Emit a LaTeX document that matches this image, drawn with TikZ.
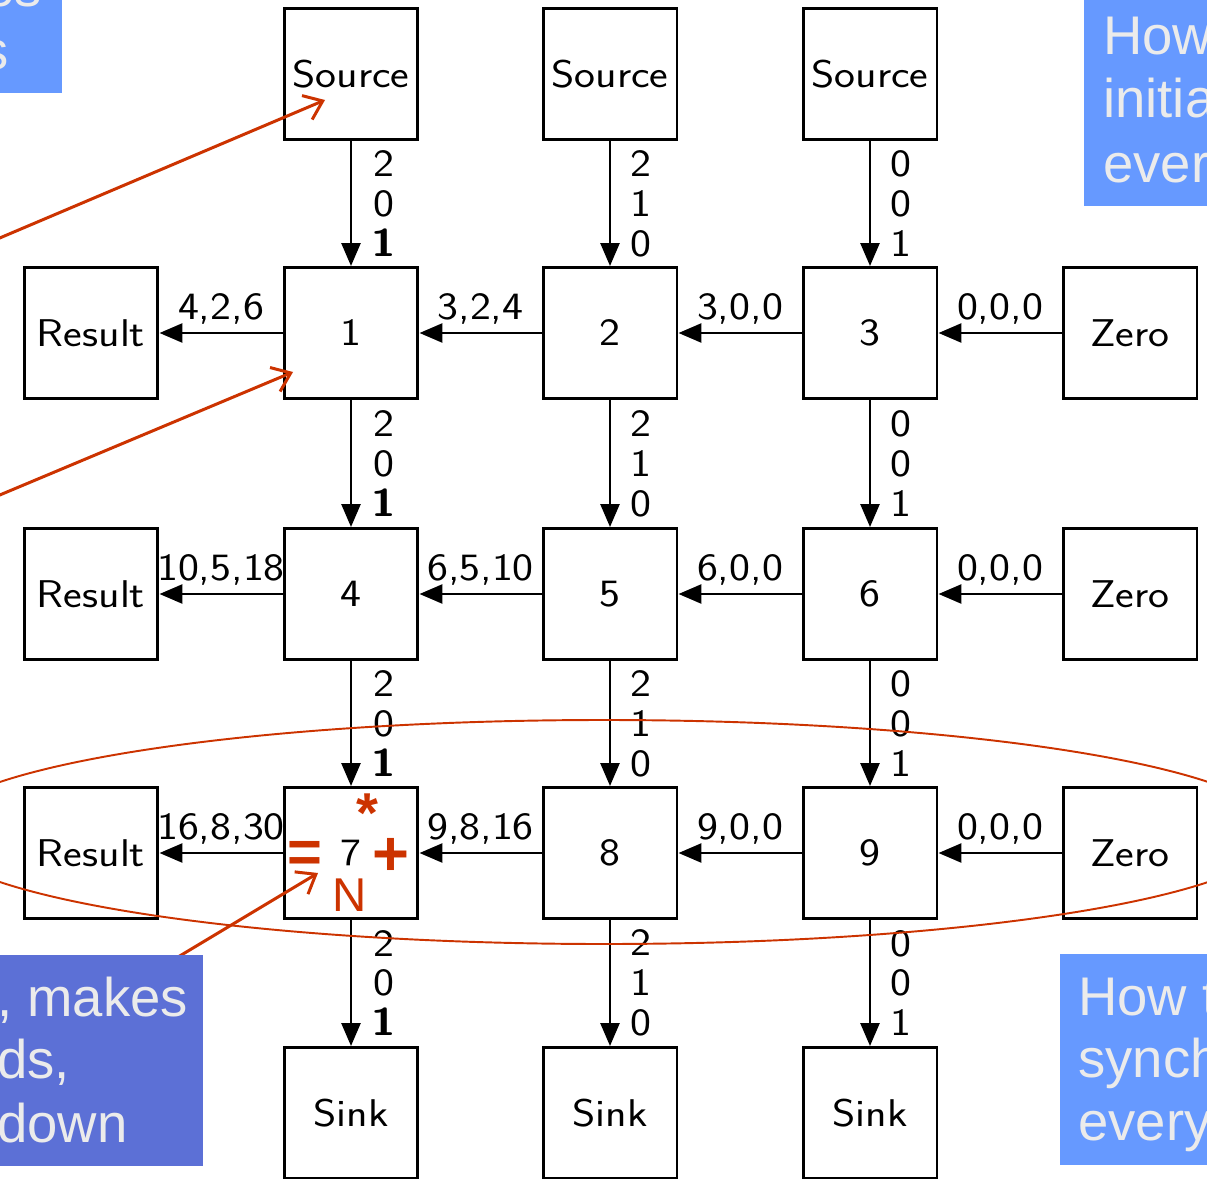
\documentclass[tikz,border=0pt]{standalone}
\usepackage{fontspec}
\newfontfamily\calloutfont{Liberation Sans}
\usetikzlibrary{arrows.meta}
\definecolor{markred}{HTML}{CC3300}
\definecolor{calloutblue}{HTML}{6699FF}
\definecolor{calloutviolet}{HTML}{5C70D6}
\definecolor{callouttext}{HTML}{EBEBEB}
% grid lettering is set slightly wide
\newcommand\gridwide[1]{\scalebox{1.15}[1]{#1}}
\begin{document}
\begin{tikzpicture}[x=0.02cm,y=-0.02cm,
  cell/.style={draw, line width=1.7pt, minimum width=2.68cm, minimum height=2.62cm,
    inner sep=0pt, font=\sffamily\fontsize{22}{26}\selectfont},
  flow/.style={line width=1.5pt, -{Triangle[length=0.46cm,width=0.38cm]}},
  hlab/.style={above, inner sep=4pt, font=\sffamily\fontsize{22}{26}\selectfont},
  vlab/.style={right, inner sep=0pt, xshift=0.38cm, align=center,
    font=\sffamily\fontsize{22}{22.7}\selectfont},
  pointer/.style={markred, line width=1.7pt, -{Straight Barb[length=0.34cm,width=0.52cm]}},
  callout/.style={inner sep=0pt, anchor=base west, text=callouttext,
    font=\calloutfont\fontsize{31}{37}\selectfont},
  opmark/.style={inner sep=0pt, text=markred},
]
\useasboundingbox (0,0) rectangle (1207,1179);
\clip (0,0) rectangle (1207,1179);

% sources
\node[cell] (s1) at (351,74) {\gridwide{Source}};
\node[cell] (s2) at (610,74) {\gridwide{Source}};
\node[cell] (s3) at (870,74) {\gridwide{Source}};
% first row
\node[cell] (r1) at (91,333) {\gridwide{Result}};
\node[cell] (n1) at (351,333) {\gridwide{1}};
\node[cell] (n2) at (610,333) {\gridwide{2}};
\node[cell] (n3) at (870,333) {\gridwide{3}};
\node[cell] (z1) at (1130,333) {\gridwide{Zero}};
% second row
\node[cell] (r2) at (91,594) {\gridwide{Result}};
\node[cell] (n4) at (351,594) {\gridwide{4}};
\node[cell] (n5) at (610,594) {\gridwide{5}};
\node[cell] (n6) at (870,594) {\gridwide{6}};
\node[cell] (z2) at (1130,594) {\gridwide{Zero}};
% third row
\node[cell] (r3) at (91,853) {\gridwide{Result}};
\node[cell] (n7) at (351,853) {\gridwide{7}};
\node[cell] (n8) at (610,853) {\gridwide{8}};
\node[cell] (n9) at (870,853) {\gridwide{9}};
\node[cell] (z3) at (1130,853) {\gridwide{Zero}};
% sinks
\node[cell] (k1) at (351,1113) {\gridwide{Sink}};
\node[cell] (k2) at (610,1113) {\gridwide{Sink}};
\node[cell] (k3) at (870,1113) {\gridwide{Sink}};

% vertical streams
\draw[flow] (s1) -- node[vlab]{\gridwide{2}\\\gridwide{0}\\\gridwide{\textbf{1}}} (n1);
\draw[flow] (n1) -- node[vlab]{\gridwide{2}\\\gridwide{0}\\\gridwide{\textbf{1}}} (n4);
\draw[flow] (n4) -- node[vlab]{\gridwide{2}\\\gridwide{0}\\\gridwide{\textbf{1}}} (n7);
\draw[flow] (n7) -- node[vlab]{\gridwide{2}\\\gridwide{0}\\\gridwide{\textbf{1}}} (k1);
\draw[flow] (s2) -- node[vlab]{\gridwide{2}\\\gridwide{1}\\\gridwide{0}} (n2);
\draw[flow] (n2) -- node[vlab]{\gridwide{2}\\\gridwide{1}\\\gridwide{0}} (n5);
\draw[flow] (n5) -- node[vlab]{\gridwide{2}\\\gridwide{1}\\\gridwide{0}} (n8);
\draw[flow] (n8) -- node[vlab]{\gridwide{2}\\\gridwide{1}\\\gridwide{0}} (k2);
\draw[flow] (s3) -- node[vlab]{\gridwide{0}\\\gridwide{0}\\\gridwide{1}} (n3);
\draw[flow] (n3) -- node[vlab]{\gridwide{0}\\\gridwide{0}\\\gridwide{1}} (n6);
\draw[flow] (n6) -- node[vlab]{\gridwide{0}\\\gridwide{0}\\\gridwide{1}} (n9);
\draw[flow] (n9) -- node[vlab]{\gridwide{0}\\\gridwide{0}\\\gridwide{1}} (k3);

% horizontal accumulations
\draw[flow] (z1) -- node[hlab]{\gridwide{0,0,0}} (n3);
\draw[flow] (n3) -- node[hlab]{\gridwide{3,0,0}} (n2);
\draw[flow] (n2) -- node[hlab]{\gridwide{3,2,4}} (n1);
\draw[flow] (n1) -- node[hlab]{\gridwide{4,2,6}} (r1);
\draw[flow] (z2) -- node[hlab]{\gridwide{0,0,0}} (n6);
\draw[flow] (n6) -- node[hlab]{\gridwide{6,0,0}} (n5);
\draw[flow] (n5) -- node[hlab]{\gridwide{6,5,10}} (n4);
\draw[flow] (n4) -- node[hlab]{\gridwide{10,5,18}} (r2);
\draw[flow] (z3) -- node[hlab]{\gridwide{0,0,0}} (n9);
\draw[flow] (n9) -- node[hlab]{\gridwide{9,0,0}} (n8);
\draw[flow] (n8) -- node[hlab]{\gridwide{9,8,16}} (n7);
\draw[flow] (n7) -- node[hlab]{\gridwide{16,8,30}} (r3);

% operation marks in cell 7
\node[opmark, font=\calloutfont\bfseries\fontsize{32}{32}\selectfont] (mul) at (367,813) {*};
\node[opmark, font=\calloutfont\bfseries\fontsize{34}{34}\selectfont] (eq) at (305,857) {=};
\node[opmark, font=\calloutfont\bfseries\fontsize{36}{36}\selectfont] (plus) at (391,857) {+};
\node[opmark, font=\calloutfont\fontsize{27}{27}\selectfont] (nn) at (350,895) {N};

% pointers
\coordinate (p1) at (-5,240);
\coordinate (t1) at (325,100);
\coordinate (p2) at (-5,497);
\coordinate (t2) at (293,372);
\coordinate (p3) at (178,957);
\coordinate (t3) at (318,873);
\draw[pointer] (p1) -- (t1);
\draw[pointer] (p2) -- (t2);
\draw[pointer] (p3) -- (t3);

% highlighted row
\draw[markred, line width=1.1pt] (604,832) ellipse [x radius=675, y radius=112];

% callouts
\fill[calloutblue] (0,0) rectangle (62,93);
\node[callout, anchor=base east] (c1a) at (42,7) {es};
\node[callout, anchor=base east] (c1b) at (9,70) {s};

\fill[calloutblue] (1084,0) rectangle (1207,206);
\node[callout] (c2a) at (1103,55) {How};
\node[callout] (c2b) at (1103,118) {initia};
\node[callout] (c2c) at (1103,183) {ever};

\fill[calloutviolet] (0,955) rectangle (203,1166);
\node[callout] (c3a) at (-3,1016) {, makes};
\node[callout] (c3b) at (-3,1078) {ds,};
\node[callout] (c3c) at (-3,1142) {down};

\fill[calloutblue] (1060,954) rectangle (1207,1165);
\node[callout] (c4a) at (1078,1015) {How t};
\node[callout] (c4b) at (1078,1077) {synch};
\node[callout] (c4c) at (1078,1140) {every};
\end{tikzpicture}
\end{document}
